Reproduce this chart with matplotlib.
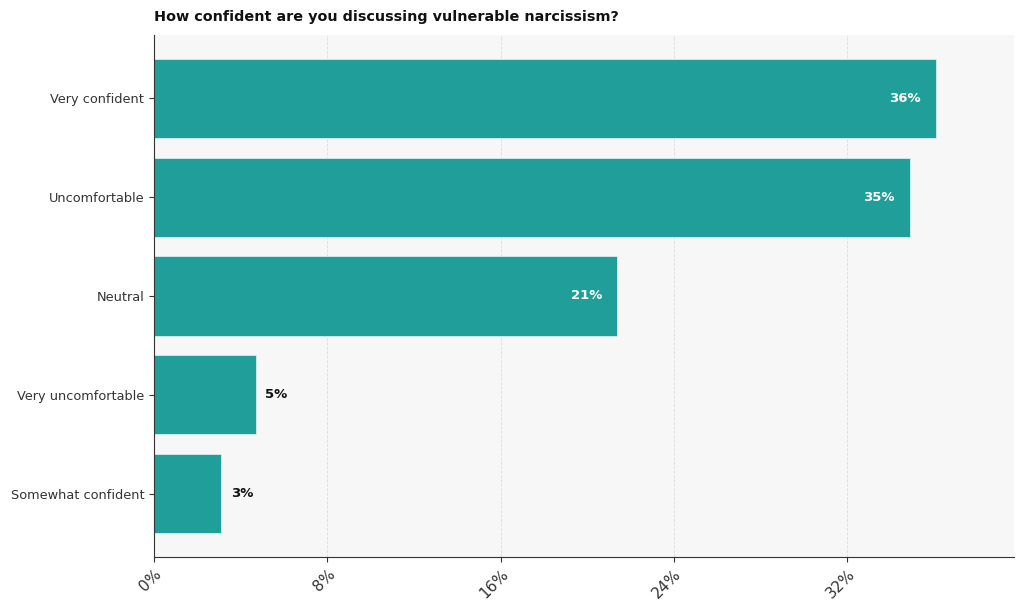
import matplotlib
matplotlib.use("Agg")
import matplotlib.pyplot as plt
from matplotlib.ticker import FuncFormatter

categories = ["Very confident", "Uncomfortable", "Neutral", "Very uncomfortable", "Somewhat confident"]
values = [36.1, 34.9, 21.4, 4.7, 3.1]
labels = ["36%", "35%", "21%", "5%", "3%"]
xticks = [0, 8, 16, 24, 32]

plt.rcParams["font.family"] = ["DejaVu Sans"]

fig = plt.figure(figsize=(10.24, 6.1), dpi=100)
ax = fig.add_axes([154/1024, 1 - 557/610, (1014-154)/1024, (557-35)/610])
ax.set_facecolor("#f7f7f7")

y = list(range(len(categories)))
bars = ax.barh(y, values, height=0.8, color="#1f9e9a", edgecolor="#e8f4f3", linewidth=0.5, zorder=2)
ax.invert_yaxis()
ax.set_yticks(y)
ax.set_yticklabels(categories, fontsize=9.3, color="#222222")
ax.set_xlim(0, max(values) * 1.1)
ax.set_xticks(xticks)
ax.xaxis.set_major_formatter(FuncFormatter(lambda v, p: f"{v:.0f}%"))
for lab in ax.get_xticklabels():
    lab.set_rotation(45)
    lab.set_ha("right")
    lab.set_rotation_mode("anchor")
    lab.set_fontsize(11)
    lab.set_color("#222222")
ax.grid(axis="x", linestyle="--", color="#dddddd", linewidth=0.6, zorder=0)
ax.set_axisbelow(True)
for s in ["top", "right"]:
    ax.spines[s].set_visible(False)
ax.spines["left"].set_color("#333333")
ax.spines["bottom"].set_color("#333333")
ax.tick_params(colors="#333333")

xmax = max(values) * 1.1
for b, v, lab in zip(bars, values, labels):
    cy = b.get_y() + b.get_height() / 2
    if v > 10:
        ax.text(v - xmax * 0.018, cy, lab, ha="right", va="center", color="white", fontsize=9.5, fontweight="bold")
    else:
        ax.text(v + xmax * 0.011, cy, lab, ha="left", va="center", color="#111111", fontsize=9.5, fontweight="bold")

ax.set_title("How confident are you discussing vulnerable narcissism?", loc="left", fontsize=10.4, fontweight="bold", pad=10, color="#111111")

fig.savefig("out.png", dpi=100, facecolor="white")
